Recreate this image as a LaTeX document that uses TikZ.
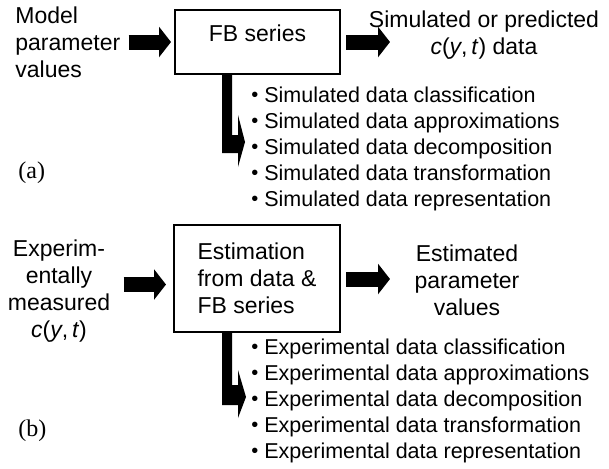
\documentclass[tikz,border=0pt]{standalone}
\usepackage{fontspec}
\setmainfont{Liberation Sans}
\newfontfamily\capfont{Liberation Serif}
\usetikzlibrary{arrows.meta}

\tikzset{
  blockarr/.style={line width=7.5pt,-{Triangle[length=6pt,width=15pt]}},
  procbox/.style={draw,line width=1pt,inner sep=0pt},
  plain/.style={inner sep=0pt,font=\fontsize{11.5}{13.5}\selectfont},
  bullets/.style={inner sep=0pt,align=left,anchor=west,font=\fontsize{10.75}{13}\selectfont},
  panel/.style={inner sep=0pt,anchor=west,font=\capfont\fontsize{12}{14}\selectfont}
}
\newcommand{\cyt}{\textit{c}(\textit{y},\,\textit{t})}
\newcommand{\itm}{\raisebox{0.4pt}{\fontsize{10}{10}\selectfont\textbullet}\ }

\begin{document}
\begin{tikzpicture}[x=0.5pt,y=-0.5pt]
\useasboundingbox (0,0) rectangle (609,468);
% (a) forward: simulation with the FB series
\node[plain,align=left,anchor=west] (ina) at (15,42) {Model\\parameter\\values};
\node[procbox,plain,minimum width=82.5pt,minimum height=32pt,text height=8pt,text depth=8.5pt] (boxa) at (257.5,42) {FB series};
\node[plain,align=center] (outa) at (484,35) {Simulated or predicted\\\cyt{} data};
\coordinate (enda) at (390,42);
\draw[blockarr,shorten <=4pt,shorten >=1.5pt] (ina.east |- boxa.west) -- (boxa.west);
\draw[blockarr,shorten <=2.5pt] (boxa.east) -- (enda);
\fill (222,74) -- (232,74) -- (232,135) -- (238,135) -- (238,115) -- (245,142)
  -- (238,167) -- (238,153) -- (222,153) -- cycle;
\node[bullets] (lista) at (251,149) {\itm Simulated data classification\\
  \itm Simulated data approximations\\
  \itm Simulated data decomposition\\
  \itm Simulated data transformation\\
  \itm Simulated data representation};
\node[panel] (capa) at (18,173) {(a)};

% (b) inverse: estimation from measured data
\node[plain,align=center] (inb) at (59,291) {Experim-\\entally\\measured\\\cyt};
\node[procbox,plain,align=left,minimum width=83pt,minimum height=53.5pt] (boxb) at (257,278.5) {Estimation\\from data \&\\FB series};
\node[plain,align=center] (outb) at (467,280) {Estimated\\parameter\\values};
\coordinate (arrowb) at ([yshift=-3pt]boxb.west);
\coordinate (endb) at (390,279);
\draw[blockarr,shorten <=6.5pt,shorten >=3.5pt] (inb.east |- arrowb) -- (arrowb);
\draw[blockarr,shorten <=2.5pt] (boxb.east |- endb) -- (endb);
\fill (222,332) -- (232,332) -- (232,385) -- (238,385) -- (238,370) -- (246,397)
  -- (238,418) -- (238,405) -- (222,405) -- cycle;
\node[bullets] (listb) at (251,401) {\itm Experimental data classification\\
  \itm Experimental data approximations\\
  \itm Experimental data decomposition\\
  \itm Experimental data transformation\\
  \itm Experimental data representation};
\node[panel] (capb) at (18,431) {(b)};
\end{tikzpicture}
\end{document}
